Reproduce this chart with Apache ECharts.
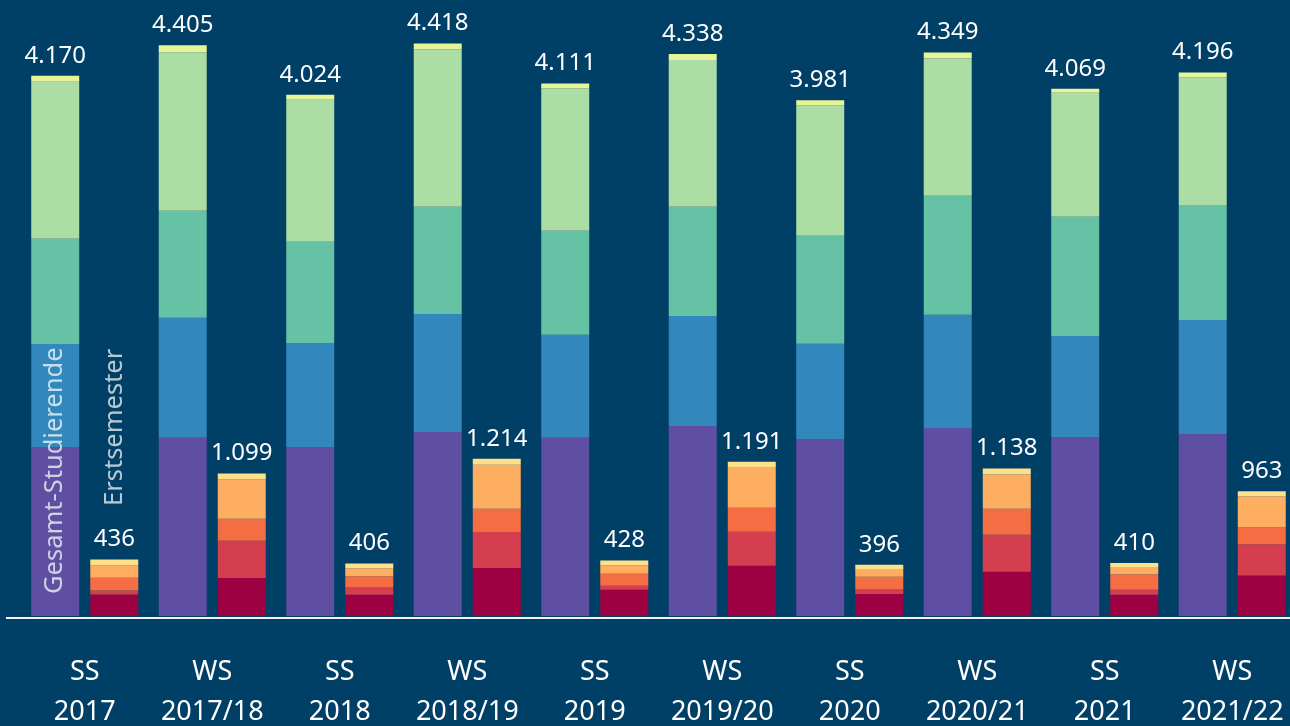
<!DOCTYPE html>
<html>
<head>
<meta charset="utf-8">
<script src="https://cdn.jsdelivr.net/npm/echarts@6/dist/echarts.min.js"></script>
<style>
  html, body { margin: 0; padding: 0; background: #003f66; }
  #chart { width: 1290px; height: 726px; }
</style>
</head>
<body>
<div id="chart"></div>
<script>
const categories = ['SS\n2017', 'WS\n2017/18', 'SS\n2018', 'WS\n2018/19', 'SS\n2019',
  'WS\n2019/20', 'SS\n2020', 'WS\n2020/21', 'SS\n2021', 'WS\n2021/22']

// Gesamt-Studierende, Segmente von unten nach oben
const gesamtTotal = [4170, 4405, 4024, 4418, 4111, 4338, 3981, 4349, 4069, 4196]
const gesamt1 = [1305, 1375, 1305, 1421, 1375, 1467, 1367, 1452, 1382, 1405]
const gesamt2 = [795, 927, 803, 911, 795, 849, 734, 873, 780, 880]
const gesamt3 = [811, 826, 780, 826, 803, 842, 834, 919, 919, 888]
const gesamt4 = [1212, 1223, 1097, 1214, 1099, 1134, 1007, 1059, 957, 984]
const gesamt5 = [47, 54, 39, 46, 39, 46, 39, 46, 31, 39]

// Erstsemester, Segmente von unten nach oben
const erstTotal = [436, 1099, 406, 1214, 428, 1191, 396, 1138, 410, 963]
const erst1 = [165, 294, 164, 371, 202, 387, 170, 341, 164, 312]
const erst2 = [31, 287, 56, 278, 31, 263, 39, 286, 39, 241]
const erst3 = [100, 170, 86, 178, 94, 185, 94, 201, 120, 132]
const erst4 = [93, 302, 62, 341, 62, 310, 54, 264, 56, 240]
const erst5 = [47, 46, 38, 46, 39, 46, 39, 46, 31, 38]

const gesamtColors = ['#5e4fa2', '#3288bd', '#66c2a5', '#abdda4', '#e6f598']
const erstColors = ['#9e0142', '#d53e4f', '#f46d43', '#fdae61', '#fee08b']

const fmt = (n) => String(n).replace(/\B(?=(\d{3})+(?!\d))/g, '.')

const totalLabel = (totals) => ({
  show: true,
  position: 'top',
  distance: 8,
  color: '#ffffff',
  fontSize: 24,
  fontFamily: 'Noto Sans',
  formatter: (p) => fmt(totals[p.dataIndex]),
})

const sideLabel = (text, distance) => ({
  show: true,
  position: 'insideBottom',
  distance: distance,
  rotate: 90,
  align: 'left',
  verticalAlign: 'middle',
  color: 'rgba(255,255,255,0.72)',
  fontSize: 25.5,
  fontFamily: 'Noto Sans',
  formatter: text,
})

const makeSeries = (stack, name, values, color, i, totals) => {
  const s = {
    name: name,
    type: 'bar',
    stack: stack,
    barWidth: 48,
    barGap: '23%',
    itemStyle: { color: color },
    silent: true,
    data: values.slice(),
  }
  if (i === 4) {
    s.label = totalLabel(totals)
  }
  return s
}

const gesamtSeries = [gesamt1, gesamt2, gesamt3, gesamt4, gesamt5].map((v, i) =>
  makeSeries('gesamt', 'Gesamt ' + (i + 1), v, gesamtColors[i], i, gesamtTotal))
const erstSeries = [erst1, erst2, erst3, erst4, erst5].map((v, i) =>
  makeSeries('erst', 'Erst ' + (i + 1), v, erstColors[i], i, erstTotal))

// Beschriftung der Balkenarten am ersten Semester
gesamtSeries[0].data[0] = { value: gesamt1[0], label: sideLabel('Gesamt-Studierende', 22) }
erstSeries[0].data[0] = { value: erst1[0], label: sideLabel('Erstsemester', 110) }

const chart = echarts.init(document.getElementById('chart'))
const option = {
  backgroundColor: '#003f66',
  animation: false,
  grid: {
    left: 21,
    width: 1275,
    top: 33,
    bottom: 110,
    containLabel: false,
    outerBoundsMode: 'none',
  },
  xAxis: {
    type: 'category',
    data: categories,
    axisLine: { show: false },
    axisTick: { show: false },
    axisLabel: {
      color: '#ffffff',
      fontSize: 27,
      lineHeight: 40,
      margin: 36,
      fontFamily: 'Noto Sans',
      interval: 0,
    },
  },
  yAxis: {
    type: 'value',
    min: 0,
    max: 4500,
    show: false,
  },
  graphic: [
    {
      type: 'line',
      shape: { x1: 6, y1: 618, x2: 1290, y2: 618 },
      style: { stroke: '#f4f4f8', lineWidth: 2 },
      silent: true,
    },
  ],
  series: gesamtSeries.concat(erstSeries),
}
chart.setOption(option)
</script>
</body>
</html>
